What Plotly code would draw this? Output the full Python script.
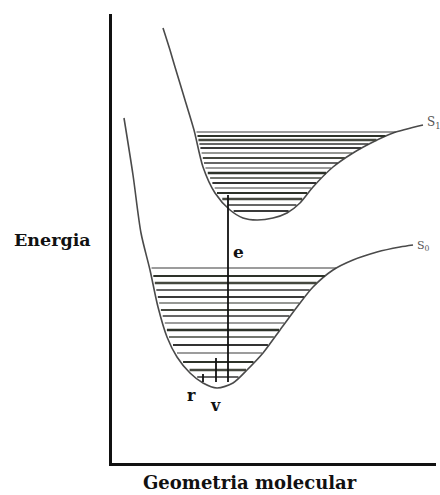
import numpy as np
import plotly.graph_objects as go

# Schematic data (arbitrary units: geometry along x, energy along y)
s1_geom = [51, 58, 63, 73, 82, 91, 103, 118, 131, 145, 161, 175, 188, 201, 221, 241, 261, 281, 311]
s1_energy = [435, 413, 396, 363, 333, 296, 270, 253, 245, 243, 245, 250, 260, 276, 296, 310, 321, 330, 338]

s0_geom = [12, 21, 29, 38, 46, 55, 65, 78, 91, 105, 121, 135, 151, 168, 185, 201, 221, 241, 265, 288, 301]
s0_energy = [345, 288, 230, 193, 156, 126, 106, 90, 80, 75, 80, 93, 110, 133, 156, 176, 193, 203, 211, 216, 218]

s1_levels = [331, 327, 323, 319, 315, 310, 305, 300, 295, 290, 285, 280, 275, 270, 264, 258, 252]
s0_levels = [195, 187, 180, 173, 166, 160, 153, 147, 140, 133, 126, 118, 110, 101, 93, 86]

# transitions: (geometry, energy_from, energy_to)
trans_geom = [116, 104, 91]
trans_from = [81, 81, 81]
trans_to = [268, 105, 89]

labels = ["S<sub>1</sub>", "S<sub>0</sub>"]

fig = go.Figure()

curve_color = "#4a4a4a"
fig.add_trace(go.Scatter(x=s1_geom, y=s1_energy, mode="lines",
                         line=dict(color=curve_color, width=1.6, shape="spline", smoothing=0.8),
                         hoverinfo="skip", showlegend=False))
fig.add_trace(go.Scatter(x=s0_geom, y=s0_energy, mode="lines",
                         line=dict(color=curve_color, width=1.6, shape="spline", smoothing=0.8),
                         hoverinfo="skip", showlegend=False))


def branch_x(gx, ey, level):
    gx = np.array(gx, float)
    ey = np.array(ey, float)
    i = int(np.argmin(ey))
    lx, ly = gx[: i + 1], ey[: i + 1]
    rx, ry = gx[i:], ey[i:]
    left = np.interp(level, ly[::-1], lx[::-1])
    right = np.interp(level, ry, rx)
    return left, right


widths = [1.2, 1.8, 2.4, 1.4, 2.0, 1.2, 2.2, 1.5, 1.2, 2.3, 1.4, 1.8]
cols = ["#3a3a3a", "#2e332a", "#45483f", "#333333"]
for group, (gx, ey) in [(s1_levels, (s1_geom, s1_energy)), (s0_levels, (s0_geom, s0_energy))]:
    for k, lev in enumerate(group):
        a, b = branch_x(gx, ey, lev)
        a += 2
        b -= 1
        fig.add_trace(go.Scatter(x=[a, b], y=[lev, lev], mode="lines",
                                 line=dict(color=cols[k % 4], width=widths[k % len(widths)]),
                                 hoverinfo="skip", showlegend=False))

for gx, e0, e1 in zip(trans_geom, trans_from, trans_to):
    fig.add_trace(go.Scatter(x=[gx, gx], y=[e0, e1], mode="lines",
                             line=dict(color="#111111", width=1.8),
                             hoverinfo="skip", showlegend=False))

serif = "DejaVu Serif"
ann = [
    dict(x=s1_geom[-1] + 2, y=s1_energy[-1] + 2, text=labels[0], xanchor="left", yanchor="middle",
         xref="x", yref="y", font=dict(family=serif, size=12, color="#555555")),
    dict(x=s0_geom[-1] + 2, y=s0_energy[-1] - 1, text=labels[1], xanchor="left", yanchor="middle",
         xref="x", yref="y", font=dict(family=serif, size=11, color="#555555")),
    dict(x=126, y=211, text="<b>e</b>", xanchor="center", yanchor="middle",
         xref="x", yref="y", font=dict(family=serif, size=17, color="#111111")),
    dict(x=79, y=68, text="<b>r</b>", xanchor="center", yanchor="middle",
         xref="x", yref="y", font=dict(family=serif, size=16, color="#111111")),
    dict(x=103, y=58, text="<b>v</b>", xanchor="center", yanchor="middle",
         xref="x", yref="y", font=dict(family=serif, size=16, color="#111111")),
    dict(x=-0.185, y=0.497, text="<b>Energia</b>", xanchor="center", yanchor="middle",
         xref="paper", yref="paper", font=dict(family=serif, size=17.5, color="#111111")),
    dict(x=0.426, y=-0.0445, text="<b>Geometria molecular</b>", xanchor="center", yanchor="middle",
         xref="paper", yref="paper", font=dict(family=serif, size=18, color="#111111")),
]
for a in ann:
    a.update(showarrow=False)

fig.update_layout(
    width=440, height=495,
    margin=dict(l=112, r=4, t=14, b=32),
    paper_bgcolor="white", plot_bgcolor="white",
    annotations=ann,
    xaxis=dict(range=[0, 324], showgrid=False, zeroline=False, showticklabels=False, ticks="",
               showline=True, linecolor="#111111", linewidth=2.5, fixedrange=True),
    yaxis=dict(range=[0, 449], showgrid=False, zeroline=False, showticklabels=False, ticks="",
               showline=True, linecolor="#111111", linewidth=2.5, fixedrange=True),
)

fig.write_html("out.html", config={"displayModeBar": False},
               post_script="document.body.style.margin='0';")
